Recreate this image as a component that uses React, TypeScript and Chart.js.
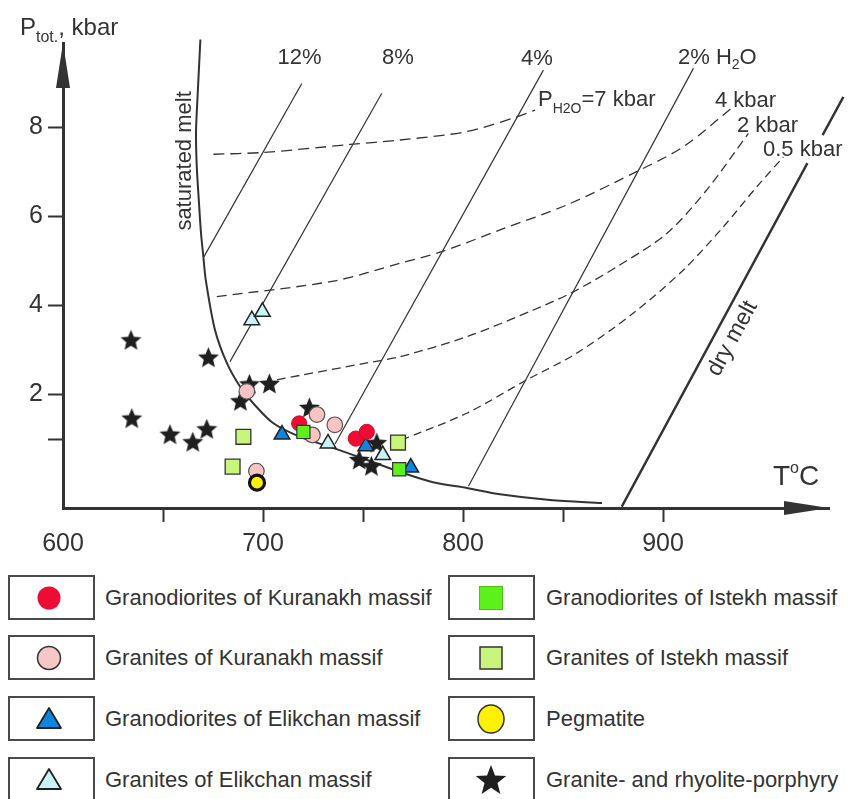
import React, { useEffect, useRef } from 'react';
import { Chart, registerables } from 'chart.js';

Chart.register(...registerables);

const FONT = '"Liberation Sans", Arial, Helvetica, sans-serif';
const INK = '#333333';

// ---------- axis ticks ----------
const xTickValues = [600, 650, 700, 750, 800, 850, 900];
const xTickLabels = ['600', '', '700', '', '800', '', '900'];
const yTickValues = [1, 2, 4, 6, 8];
const yTickLabels = ['', '2', '4', '6', '8'];

// ---------- series names ----------
const seriesNames = [
  'Granodiorites of Kuranakh massif',
  'Granites of Kuranakh massif',
  'Granodiorites of Elikchan massif',
  'Granites of Elikchan massif',
  'Granodiorites of Istekh massif',
  'Granites of Istekh massif',
  'Pegmatite',
  'Granite- and rhyolite-porphyry',
];

type Pt = [number, number | null];

// ---------- samples [T °C, P kbar] ----------
const granodioritesKuranakh: Pt[] = [[718.1, 1.35], [746.4, 1.01], [751.9, 1.16]];
const granitesKuranakh: Pt[] = [[691.9, 2.07], [727.0, 1.55], [735.9, 1.32], [724.7, 1.09], [696.7, 0.28]];
const granodioritesElikchan: Pt[] = [[709.5, 1.10], [751.4, 0.84], [773.9, 0.36]];
const granitesElikchan: Pt[] = [[694.4, 3.67], [699.7, 3.86], [732.5, 0.90], [759.9, 0.64]];
const granodioritesIstekh: Pt[] = [[720.2, 1.16], [768.1, 0.32]];
const granitesIstekh: Pt[] = [[690.2, 1.05], [684.8, 0.38], [767.5, 0.92]];
const pegmatite: Pt[] = [[697.0, 0.02]];
const porphyry: Pt[] = [
  [634.0, 3.23], [672.7, 2.84], [634.4, 1.47], [653.5, 1.11], [664.9, 0.94], [671.9, 1.23],
  [693.2, 2.24], [703.2, 2.25], [688.7, 1.86], [723.2, 1.71], [756.9, 0.92], [748.1, 0.54], [754.2, 0.40],
];

// ---------- curves [T °C, P kbar] ----------
const saturatedMelt: Pt[] = [
  [668.7, 9.98], [667.2, 8.62], [666.5, 7.88], [666.9, 7.11], [667.9, 6.37], [669.0, 5.63],
  [670.2, 5.09], [671.4, 4.57], [676.0, 3.45], [681.9, 2.71], [688.5, 2.18], [695.0, 1.81],
  [705.0, 1.36], [718.5, 1.05], [735.0, 0.80], [752.0, 0.53], [768.5, 0.26], [785.0, 0.03],
  [802.0, -0.10], [818.5, -0.24], [843.5, -0.37], [869.5, -0.44],
];
const water12: Pt[] = [[670.5, 5.10], [719.4, 8.99]];
const water8: Pt[] = [[683.5, 2.74], [759.4, 8.77]];
const water4: Pt[] = [[736.0, 0.89], [840.2, 9.29]];
const water2: Pt[] = [[802.7, -0.06], [915.2, 9.33]];
const dryMelt: Pt[] = [[879.4, -0.52], [972.2, 7.20], [975.9, null], [979.8, 7.83], [990.2, 8.69]];
const pH2O7: Pt[] = [[675.2, 7.40], [700.2, 7.44], [743.5, 7.62], [768.5, 7.72], [801.9, 7.91], [826.9, 8.24], [836.0, 8.39]];
const pH2O4: Pt[] = [[676.9, 4.20], [735.2, 4.55], [768.5, 4.95], [789.4, 5.21], [818.5, 5.70], [851.9, 6.26], [887.7, 7.03], [910.2, 7.57], [935.2, 8.47]];
const pH2O2: Pt[] = [[706.9, 2.33], [718.5, 2.43], [751.9, 2.71], [768.5, 2.85], [801.9, 3.30], [835.2, 3.90], [854.4, 4.29], [876.9, 4.87], [901.9, 5.62], [921.9, 6.60], [942.7, 7.87]];
const pH2O05: Pt[] = [[769.4, 0.98], [801.9, 1.58], [831.9, 2.33], [856.9, 2.93], [885.2, 3.83], [910.2, 4.80], [930.2, 5.77], [946.9, 6.67], [960.2, 7.34]];

const toXY = (pts: Pt[]) => pts.map(([x, y]) => ({ x, y }));

type Part = [string, number, number]; // text, font size, baseline shift
type Label = { parts: Part[]; T: number; P: number; align: 'left' | 'center' };

const chartLabels: Label[] = [
  { parts: [['P', 24, 0], ['tot.', 16, 7], [', kbar', 24, 0]], T: 578.5, P: 10.08, align: 'left' },
  { parts: [['T', 28, 0], ['o', 16, -12], ['C', 28, 0]], T: 955, P: -0.03, align: 'left' },
  { parts: [['12%', 22, 0]], T: 718.3, P: 9.43, align: 'center' },
  { parts: [['8%', 22, 0]], T: 767.5, P: 9.43, align: 'center' },
  { parts: [['4%', 22, 0]], T: 837, P: 9.40, align: 'center' },
  { parts: [['2% H', 22, 0], ['2', 14, 5], ['O', 22, 0]], T: 907.5, P: 9.43, align: 'left' },
  { parts: [['P', 22, 0], ['H2O', 14, 7], ['=7 kbar', 22, 0]], T: 837.5, P: 8.48, align: 'left' },
  { parts: [['4 kbar', 22, 0]], T: 926, P: 8.47, align: 'left' },
  { parts: [['2 kbar', 22, 0]], T: 937, P: 7.89, align: 'left' },
  { parts: [['0.5 kbar', 22, 0]], T: 950, P: 7.35, align: 'left' },
];

function drawParts(ctx: CanvasRenderingContext2D, parts: Part[], x: number, y: number, align: string) {
  let w = 0;
  for (const [t, s] of parts) {
    ctx.font = `${s}px ${FONT}`;
    w += ctx.measureText(t).width;
  }
  let cx = align === 'center' ? x - w / 2 : x;
  for (const [t, s, dy] of parts) {
    ctx.font = `${s}px ${FONT}`;
    ctx.fillText(t, cx, y + dy);
    cx += ctx.measureText(t).width;
  }
}

const annotationPlugin = {
  id: 'annotations',
  afterDraw(chart: any) {
    const { ctx, chartArea: a } = chart;
    const xs = chart.scales.x;
    const ys = chart.scales.y;
    ctx.save();
    ctx.fillStyle = INK;
    // arrow heads
    ctx.beginPath();
    ctx.moveTo(a.left, a.top);
    ctx.lineTo(a.left - 7, a.top + 45);
    ctx.lineTo(a.left + 7, a.top + 45);
    ctx.closePath();
    ctx.fill();
    ctx.beginPath();
    ctx.moveTo(a.right, a.bottom);
    ctx.lineTo(a.right - 45, a.bottom - 7);
    ctx.lineTo(a.right - 45, a.bottom + 7);
    ctx.closePath();
    ctx.fill();

    ctx.textBaseline = 'alphabetic';
    ctx.textAlign = 'left';
    for (const l of chartLabels) {
      drawParts(ctx, l.parts, xs.getPixelForValue(l.T), ys.getPixelForValue(l.P), l.align);
    }

    // saturated melt (vertical)
    ctx.save();
    ctx.translate(xs.getPixelForValue(661), ys.getPixelForValue(7.25));
    ctx.rotate(-Math.PI / 2);
    ctx.textAlign = 'center';
    ctx.textBaseline = 'middle';
    ctx.font = `22px ${FONT}`;
    ctx.fillText('saturated melt', 0, 0);
    ctx.restore();

    // dry melt (along the line)
    const p0 = dryMelt[0];
    const p1 = dryMelt[dryMelt.length - 1];
    const ang = Math.atan2(
      ys.getPixelForValue(p1[1]) - ys.getPixelForValue(p0[1]),
      xs.getPixelForValue(p1[0]) - xs.getPixelForValue(p0[0])
    );
    ctx.save();
    ctx.translate(xs.getPixelForValue(934.75), ys.getPixelForValue(3.26));
    ctx.rotate(ang);
    ctx.textAlign = 'center';
    ctx.textBaseline = 'middle';
    ctx.font = `23px ${FONT}`;
    ctx.fillText('dry melt', 0, 0);
    ctx.restore();

    ctx.restore();
  },
};

function makeStarCanvas(size: number, color: string): HTMLCanvasElement {
  const c = document.createElement('canvas');
  c.width = size;
  c.height = size;
  const g = c.getContext('2d')!;
  const R = size / 2 - 0.5;
  const r = R * 0.45;
  g.beginPath();
  for (let i = 0; i < 10; i++) {
    const ang = -Math.PI / 2 + (i * Math.PI) / 5;
    const rad = i % 2 === 0 ? R : r;
    g.lineTo(size / 2 + rad * Math.cos(ang), size / 2 + 1 + rad * Math.sin(ang));
  }
  g.closePath();
  g.fillStyle = color;
  g.fill();
  return c;
}

function starPoints(cx: number, cy: number, R: number, r: number) {
  const pts: string[] = [];
  for (let i = 0; i < 10; i++) {
    const ang = -Math.PI / 2 + (i * Math.PI) / 5;
    const rad = i % 2 === 0 ? R : r;
    pts.push(`${(cx + rad * Math.cos(ang)).toFixed(2)},${(cy + rad * Math.sin(ang)).toFixed(2)}`);
  }
  return pts.join(' ');
}

const legendMarkers: React.ReactNode[] = [
  <circle cx={20} cy={20} r={11.5} fill="#ee0b34" />,
  <circle cx={20} cy={20} r={11.5} fill="#f7c7c5" stroke="#333" strokeWidth={1.5} />,
  <polygon points="20,9 32,29 8,29" fill="#0f85e0" stroke="#222" strokeWidth={1.8} strokeLinejoin="round" />,
  <polygon points="20,9 32,29 8,29" fill="#c9f4f6" stroke="#222" strokeWidth={1.8} strokeLinejoin="round" />,
  <rect x={8.5} y={8.5} width={23} height={23} fill="#5cf11a" stroke="#4cc217" strokeWidth={1} />,
  <rect x={9} y={9} width={22} height={22} fill="#c9f57c" stroke="#333" strokeWidth={1.5} />,
  <ellipse cx={20} cy={20} rx={13} ry={14} fill="#fff200" stroke="#333" strokeWidth={1.5} />,
  <polygon points={starPoints(20, 21, 16, 6.8)} fill="#1f1f1f" />,
];

const rowTops = [575, 635, 696, 757];

export default function App() {
  const ref = useRef<HTMLCanvasElement>(null);

  useEffect(() => {
    const canvas = ref.current;
    if (!canvas) return;
    const star = makeStarCanvas(23, '#1f1f1f');

    const points = (label: string, pts: Pt[], style: any, radius: number, bg: string, border: string, bw: number, order: number) => ({
      label,
      data: toXY(pts),
      showLine: false,
      pointStyle: style,
      pointRadius: radius,
      pointHoverRadius: radius,
      pointBackgroundColor: bg,
      pointBorderColor: border,
      pointBorderWidth: bw,
      backgroundColor: bg,
      borderColor: border,
      order,
      clip: false,
    });
    const curve = (label: string, pts: Pt[], width: number, dash: number[], tension: number) => ({
      label,
      data: toXY(pts),
      showLine: true,
      borderColor: INK,
      borderWidth: width,
      borderDash: dash,
      pointRadius: 0,
      pointHoverRadius: 0,
      tension,
      fill: false,
      spanGaps: false,
      clip: false,
      order: 50,
    });

    const chart = new Chart(canvas, {
      type: 'scatter',
      data: {
        datasets: [
          curve('saturated melt', saturatedMelt, 2, [], 0.3),
          curve('12%', water12, 1.2, [], 0),
          curve('8%', water8, 1.2, [], 0),
          curve('4%', water4, 1.2, [], 0),
          curve('2% H2O', water2, 1.2, [], 0),
          curve('dry melt', dryMelt, 2.4, [], 0),
          curve('PH2O=7 kbar', pH2O7, 1.3, [11, 6], 0.3),
          curve('4 kbar', pH2O4, 1.3, [10, 6], 0.3),
          curve('2 kbar', pH2O2, 1.3, [9, 5], 0.3),
          curve('0.5 kbar', pH2O05, 1.3, [8, 5], 0.3),
          points(seriesNames[7], porphyry, star, 10, '#1f1f1f', '#1f1f1f', 0, 9),
          points(seriesNames[3], granitesElikchan, 'triangle', 9, '#c9f4f6', '#222222', 1.5, 8),
          points(seriesNames[2], granodioritesElikchan, 'triangle', 9, '#0f85e0', '#222222', 1.5, 7),
          points(seriesNames[5], granitesIstekh, 'rect', 10.5, '#c9f57c', '#333333', 1.3, 6),
          points(seriesNames[1], granitesKuranakh, 'circle', 7.8, '#f7c4c2', '#555555', 1.2, 5),
          points(seriesNames[0], granodioritesKuranakh, 'circle', 7.6, '#ee0b34', '#d40a2c', 1, 4),
          points(seriesNames[4], granodioritesIstekh, 'rect', 9.3, '#5cf11a', '#333333', 1.2, 3),
          points(seriesNames[6], pegmatite, 'circle', 7.5, '#fff200', '#111111', 3.2, 2),
        ] as any,
      },
      options: {
        responsive: false,
        animation: false,
        devicePixelRatio: 1,
        events: [],
        layout: { padding: { left: 0, top: 43, right: 19, bottom: 0 } },
        plugins: {
          legend: { display: false },
          tooltip: { enabled: false },
          title: { display: false },
        },
        scales: {
          x: {
            type: 'linear',
            min: 600,
            max: 983,
            afterBuildTicks: (s: any) => {
              s.ticks = xTickValues.map((v) => ({ value: v }));
            },
            afterFit: (s: any) => {
              s.height = 52;
              s.paddingLeft = 0;
              s.paddingRight = 0;
            },
            ticks: {
              autoSkip: false,
              maxRotation: 0,
              minRotation: 0,
              padding: 7,
              color: INK,
              font: { family: FONT, size: 25 },
              callback: (v: any) => {
                const i = xTickValues.indexOf(Number(v));
                return i >= 0 ? xTickLabels[i] : '';
              },
            },
            grid: {
              display: true,
              drawOnChartArea: false,
              drawTicks: true,
              tickLength: 14,
              tickWidth: 2,
              tickColor: (c: any) => (c.tick && c.tick.value === xTickValues[0] ? 'rgba(0,0,0,0)' : INK),
            },
            border: { display: true, width: 3, color: INK },
          },
          y: {
            type: 'linear',
            min: -0.55,
            max: 9.9,
            afterBuildTicks: (s: any) => {
              s.ticks = yTickValues.map((v) => ({ value: v }));
            },
            afterFit: (s: any) => {
              s.width = 63;
              s.paddingTop = 0;
              s.paddingBottom = 0;
            },
            ticks: {
              autoSkip: false,
              padding: 5,
              color: INK,
              font: { family: FONT, size: 25 },
              callback: (v: any) => {
                const i = yTickValues.indexOf(Number(v));
                return i >= 0 ? yTickLabels[i] : '';
              },
            },
            grid: {
              display: true,
              drawOnChartArea: false,
              drawTicks: true,
              tickLength: 15,
              tickWidth: 2,
              tickColor: INK,
            },
            border: { display: true, width: 3, color: INK },
          },
        },
      } as any,
      plugins: [annotationPlugin],
    });
    return () => chart.destroy();
  }, []);

  return (
    <div
      style={{
        position: 'absolute',
        left: 0,
        top: 0,
        width: 848,
        height: 799,
        overflow: 'hidden',
        background: '#ffffff',
        fontFamily: FONT,
        color: INK,
      }}
    >
      <canvas ref={ref} width={848} height={560} style={{ position: 'absolute', left: 0, top: 0, width: 848, height: 560, display: 'block' }} />
      {seriesNames.map((name, i) => {
        const col = i < 4 ? 0 : 1;
        const row = i % 4;
        const boxLeft = col === 0 ? 8 : 448;
        const markerX = col === 0 ? 48.5 : 490.5;
        const textLeft = col === 0 ? 105 : 546;
        const top = rowTops[row];
        return (
          <React.Fragment key={name}>
            <div
              style={{
                position: 'absolute',
                left: boxLeft,
                top,
                width: 87,
                height: 45,
                boxSizing: 'border-box',
                border: '2px solid #4a4a4a',
              }}
            />
            <svg
              width={40}
              height={40}
              style={{ position: 'absolute', left: markerX - 20, top: top + 22.5 - 20, overflow: 'visible' }}
            >
              {legendMarkers[i]}
            </svg>
            <div
              style={{
                position: 'absolute',
                left: textLeft,
                top: top + 22.5 - 15,
                height: 30,
                lineHeight: '30px',
                fontSize: 22,
                whiteSpace: 'nowrap',
              }}
            >
              {name}
            </div>
          </React.Fragment>
        );
      })}
    </div>
  );
}
